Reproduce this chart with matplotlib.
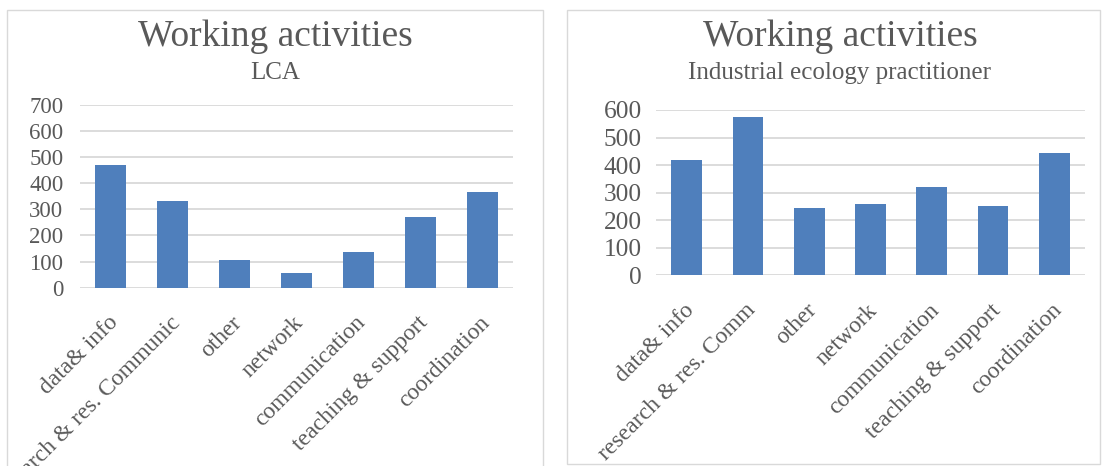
import matplotlib.pyplot as plt
from matplotlib.patches import Rectangle
from matplotlib.transforms import ScaledTranslation

plt.rcParams['font.family'] = ['Liberation Serif', 'DejaVu Serif']

lca_labels = ['data& info', 'research & res. Communic', 'other', 'network',
              'communication', 'teaching & support', 'coordination']
lca_values = [468, 332, 106, 56, 138, 270, 366]

iep_labels = ['data& info', 'research & res. Comm', 'other', 'network',
              'communication', 'teaching & support', 'coordination']
iep_values = [418, 574, 244, 260, 319, 253, 443]

bar_color = '#4f7fbc'
text_color = '#595959'
grid_color = '#d9d9d9'

W, H = 1103, 466
fig = plt.figure(figsize=(W / 100, H / 100), dpi=100)


def fx(px):
    return px / W


def fy(py):
    return 1 - py / H


def panel(x0, x1, y_bot, ax_l, ax_r, ax_t, ax_b, labels, values, ymax,
          subtitle, ysize, ypad, cx):
    # panel border
    border = Rectangle((fx(x0), fy(y_bot)), fx(x1 - x0), fy(10) - fy(y_bot),
                       transform=fig.transFigure, fill=False,
                       edgecolor='#d9d9d9', linewidth=1.0)
    fig.patches.append(border)
    clip = Rectangle((fx(x0), 0), fx(x1 - x0), 1, transform=fig.transFigure,
                     visible=False)
    fig.patches.append(clip)

    ax = fig.add_axes([fx(ax_l), fy(ax_b), fx(ax_r - ax_l), fy(ax_t) - fy(ax_b)])
    x = range(len(values))
    ax.bar(x, values, width=0.5, color=bar_color, zorder=3)
    ax.set_xlim(-0.5, len(values) - 0.5)
    ax.set_ylim(0, ymax)
    ax.set_yticks(range(0, ymax + 1, 100))
    ax.yaxis.grid(True, color=grid_color, linewidth=1.3, zorder=0)
    for s in ax.spines.values():
        s.set_visible(False)
    ax.tick_params(length=0, colors=text_color)
    ax.tick_params(axis='y', pad=ypad, labelsize=ysize)
    ax.set_xticks(list(x))
    ax.set_xticklabels(labels, rotation=45, ha='right', va='center',
                       rotation_mode='anchor', fontsize=17, color=text_color)
    ax.tick_params(axis='x', pad=23)
    shift = ScaledTranslation(4 / 100, 0, fig.dpi_scale_trans)
    for lab in ax.get_xticklabels():
        lab.set_transform(lab.get_transform() + shift)
        lab.set_clip_path(clip)
        lab.set_clip_on(True)
    fig.text(fx(cx), fy(45.7), 'Working activities', ha='center',
             va='baseline', fontsize=27, color=text_color)
    fig.text(fx(cx), fy(79), subtitle, ha='center', va='baseline',
             fontsize=18, color=text_color)
    return ax


panel(7, 543, H + 5, 80, 513, 104.7, 287.7, lca_labels, lca_values, 700,
      'LCA', 16.5, 12, 275)
panel(567, 1100, 464, 656, 1085, 110, 275.3, iep_labels, iep_values, 600,
      'Industrial ecology practitioner', 18.3, 10, 840)

fig.savefig('out.png', dpi=100, facecolor='white')
